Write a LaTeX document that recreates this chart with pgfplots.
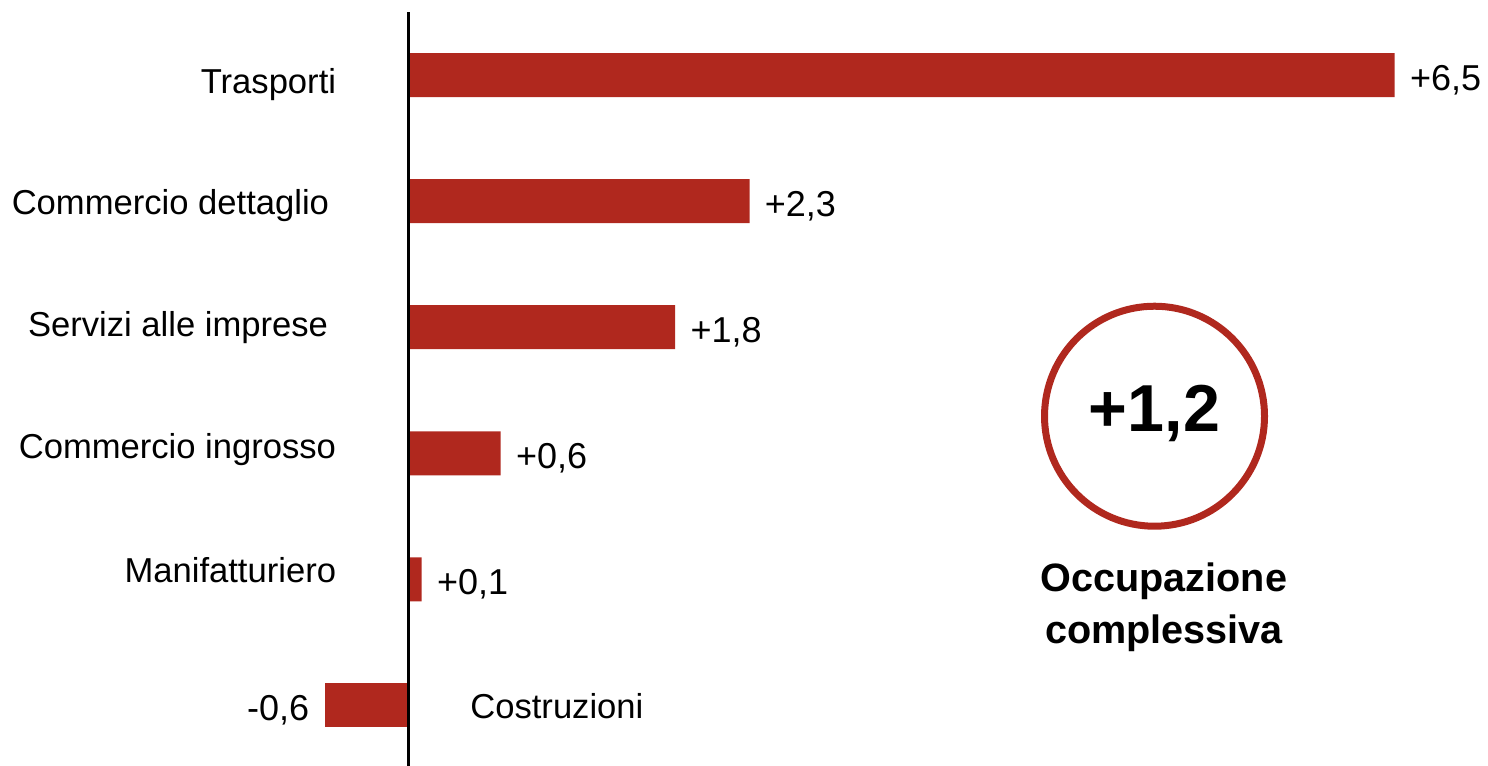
\documentclass[border=0pt]{standalone}
\usepackage{pgfplots}
\pgfplotsset{compat=1.18}
\usepackage{fontspec}
\setmainfont{Liberation Sans}
\definecolor{barred}{RGB}{176,40,30}
\newcommand{\lblfont}{\fontsize{17.3}{20}\selectfont}
\newcommand{\valfont}{\fontsize{18}{21}\selectfont}
\begin{document}
\begin{tikzpicture}
\begin{axis}[
  name=main,
  scale only axis,
  width=744pt, height=383pt,
  xmin=-2.688, xmax=7.115,
  ymin=-0.480, ymax=5.595,
  xbar, bar width=22pt, bar shift=0pt,
  clip=false,
  axis line style={draw=none},
  tick style={draw=none},
  xtick=\empty,
  ytick={0.972,1.956,2.925,3.893,4.853},
  yticklabels={Manifatturiero, Commercio ingrosso, Servizi alle imprese\rule{4pt}{0pt}, Commercio dettaglio\rule{3.5pt}{0pt}, Trasporti},
  yticklabel style={font=\lblfont, anchor=base east, inner sep=0pt, xshift=172.5pt},
  point meta=explicit symbolic,
  nodes near coords,
  every node near coord/.append style={font=\valfont, inner xsep=7.5pt, inner ysep=0pt, text=black, yshift=-2.5pt},
]
\addplot[fill=barred, draw=none,
  every node near coord/.append style={anchor=west}] coordinates {
 (0.09,1) [+0,1]
 (0.61,2) [+0,6]
 (1.76,3) [+1,8]
 (2.25,4) [+2,3]
 (6.5,5) [+6,5]
};
\addplot[fill=barred, draw=none,
  every node near coord/.append style={anchor=east}] coordinates {
 (-0.55,0) [-0,6]
};
\draw[line width=1.5pt, black] (axis cs:0,-0.480) -- (axis cs:0,5.496);
\node[anchor=base west, inner sep=0pt, font=\lblfont] at (axis cs:0.408,-0.107) {Costruzioni};
\draw[barred, line width=3.5pt] (axis cs:4.918,2.294) circle[radius=55pt];
\node[font=\bfseries\fontsize{33.2}{40}\selectfont] at (axis cs:4.918,2.314) {+1,2};
\node[font=\bfseries\fontsize{19.8}{26}\selectfont, align=center] at (axis cs:4.98,0.782) {Occupazione\\complessiva};
\end{axis}
\pgfresetboundingbox
\path[use as bounding box] (main.south west) rectangle (main.north east);
\end{tikzpicture}
\end{document}
